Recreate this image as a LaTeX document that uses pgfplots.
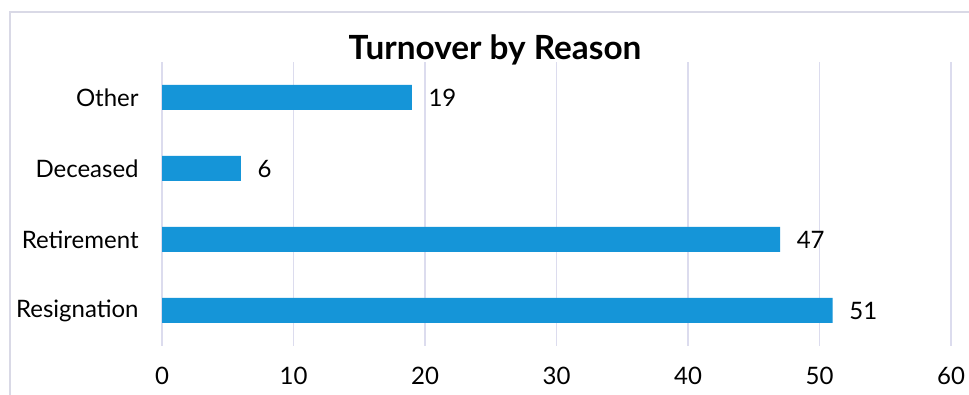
\documentclass[border=0pt]{standalone}
\usepackage{pgfplots}
\pgfplotsset{compat=1.18}
\usepackage{fontspec}
\setmainfont{Lato}
\definecolor{barblue}{RGB}{21,149,216}
\definecolor{gridc}{RGB}{220,220,238}
\definecolor{framec}{RGB}{217,217,230}
\begin{document}
\begin{tikzpicture}
\useasboundingbox (0pt,0pt) rectangle (726.75pt,296.25pt);
\fill[white] (0pt,0pt) rectangle (726.75pt,296.25pt);
\begin{scope}
\clip (0pt,0pt) rectangle (726.75pt,296.25pt);
\draw[framec, line width=1.2pt] (7.5pt,-20pt) -- (7.5pt,287.25pt) -- (760pt,287.25pt);
\end{scope}
\begin{axis}[
  at={(121.5pt,36.75pt)}, anchor=south west,
  scale only axis,
  width=591.75pt, height=213pt,
  xbar, bar width=18.75pt,
  xmin=0, xmax=60,
  ymin=-0.5, ymax=3.5,
  xtick={0,10,...,60},
  ytick={0,1,2,3},
  yticklabels={Resignation,Retirement,Deceased,Other},
  axis line style={draw=none},
  major tick length=0pt,
  xmajorgrids, grid style={gridc, line width=1.2pt},
  /pgf/number format/assume math mode=true,
  tick label style={font=\fontsize{18}{21}\selectfont},
  xticklabel style={yshift=-12pt},
  yticklabel style={xshift=-14pt},
  nodes near coords,
  nodes near coords style={anchor=west, xshift=9pt, font=\fontsize{18}{21}\selectfont},
  clip=false,
]
\addplot[fill=barblue, draw=none] coordinates {(51,0) (47,1) (6,2) (19,3)};
\end{axis}
\node[font=\bfseries\fontsize{25}{30}\selectfont] at (371.25pt,258.75pt) {Turnover by Reason};
\end{tikzpicture}
\end{document}
